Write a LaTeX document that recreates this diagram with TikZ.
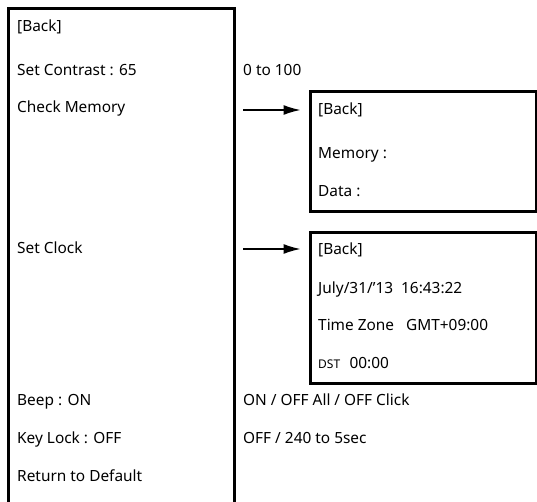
\documentclass[tikz,border=0pt]{standalone}
\usepackage{fontspec}
\setmainfont{Noto Sans}
\usetikzlibrary{positioning,arrows.meta}
\tikzset{
	item/.style={anchor=base west, inner sep=0pt, font=\fontsize{15.4}{18}\selectfont},
	small/.style={item, font=\fontsize{12}{14}\selectfont},
	frame/.style={draw, line width=3pt, minimum width=226pt, inner sep=0pt},
	pointer/.style={-{Latex[length=17pt,width=10pt]}, line width=1.4pt, shorten >=8pt}
}
\begin{document}
\begin{tikzpicture}[x=1pt,y=-1pt]
			\useasboundingbox (0,0) rectangle (537,502);
			%coordinates
			\coordinate (memfrom) at (243,110);
			\coordinate (clkfrom) at (243,249);
			%Main menu
			\draw[line width=3pt] (8,504) -- (8,9) -- (234,9) -- (234,504);
			\node[item] (back) at (17,31.7) {[Back]};
			\node[item] (contrast) at (17,76) {Set Contrast : 65};
			\node[item] (memory) at (17,113) {Check Memory};
			\node[item] (clock) at (17,254) {Set Clock};
			\node[item] (beep) at (17,405.5) {Beep : ON};
			\node[item] (keylock) at (17,443) {Key Lock : OFF};
			\node[item] (default) at (17,481) {Return to Default};
			%Options
			\node[item] (range) at (243,76) {0 to 100};
			\node[item] (beepopt) at (243,405.5) {ON / OFF All / OFF Click};
			\node[item] (lockopt) at (243,443) {OFF / 240 to 5sec};
			%Sub menus
			\node[frame, minimum height=120pt] (membox) at (423,152) {};
			\node[frame, minimum height=150pt] (clkbox) at (423,308) {};
			\node[item] (memback) at (318,114.5) {[Back]};
			\node[item] (memsize) at (318,158.5) {Memory :};
			\node[item] (memdata) at (318,196.5) {Data :};
			\node[item] (clkback) at (318,254.5) {[Back]};
			\node[item] (date) at (318,293.5) {July/31/'13\ \ 16:43:22};
			\node[item] (zone) at (318,330.5) {Time Zone\ \ \ GMT+09:00};
			\node[small] (dst) at (318,368) {DST\ \ \ \fontsize{15.4}{18}\selectfont 00:00};
			%Arrows
			\draw[pointer] (memfrom) -- (memfrom -| membox.west);
			\draw[pointer] (clkfrom) -- (clkfrom -| clkbox.west);
		\end{tikzpicture}
\end{document}
